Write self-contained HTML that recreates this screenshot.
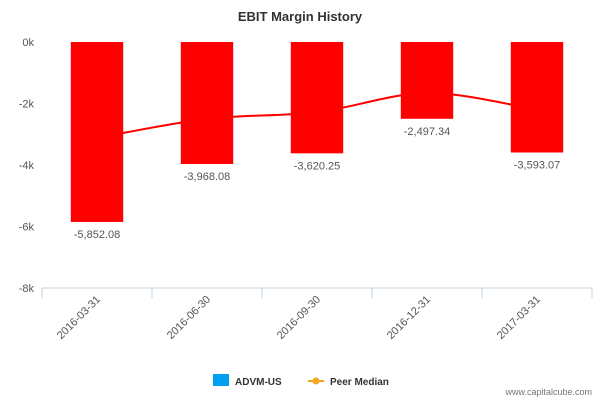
<!DOCTYPE html>
<html><head><meta charset="utf-8"><style>
body{margin:0;background:#fff;font-family:"Liberation Sans",sans-serif}
svg text{font-family:"Liberation Sans",sans-serif}
</style></head><body>
<svg id="c" width="600" height="400">
<text x="300" y="21" text-anchor="middle" font-size="13" font-weight="bold" fill="#333">EBIT Margin History</text>
<g id="yaxis"></g>
<g id="xaxis"></g>
<g id="bars"></g>
<g id="line"></g>
<g id="labels"></g>
<g>
<rect x="213" y="374" width="16" height="12" fill="#00a0f0"/>
<text x="235" y="385" font-size="10" font-weight="bold" fill="#333">ADVM-US</text>
<line x1="308" y1="381" x2="324" y2="381" stroke="#f5a623" stroke-width="2"/>
<circle cx="316" cy="381" r="3.5" fill="#f5a623"/>
<text x="330" y="385" font-size="10" font-weight="bold" fill="#333">Peer Median</text>
</g>
<text x="592" y="395" text-anchor="end" font-size="9" fill="#777">www.capitalcube.com</text>
</svg>
<script>
const categories=["2016-03-31","2016-06-30","2016-09-30","2016-12-31","2017-03-31"];
const ebitValues=[-5852.08,-3968.08,-3620.25,-2497.34,-3593.07];
const peerMedian=[-3120,-2500,-2280,-1660,-2200];
const yTicks=[0,-2000,-4000,-6000,-8000];
const yTickLabels=["0k","-2k","-4k","-6k","-8k"];
const NS="http://www.w3.org/2000/svg";
const x0=42,x1=592,y0=42,y1=288,yMin=-8000,yMax=0;
const band=(x1-x0)/categories.length;
function xC(i){return x0+band*(i+0.5);}
function yS(v){return y0+(yMax-v)/(yMax-yMin)*(y1-y0);}
function mk(tag,attrs,parent){const e=document.createElementNS(NS,tag);for(const k in attrs)e.setAttribute(k,attrs[k]);parent.appendChild(e);return e;}
const ya=document.getElementById('yaxis');
yTicks.forEach((t,i)=>{const tx=mk('text',{x:34,y:yS(t)+4,'text-anchor':'end','font-size':11,fill:'#555'},ya);tx.textContent=yTickLabels[i];

});
const xa=document.getElementById('xaxis');
const al=mk('line',{x1:x0,y1:y1,x2:x1,y2:y1,stroke:'#c0d0e0','stroke-width':1},xa);


for(let i=0;i<=categories.length;i++){const tk=mk('line',{x1:x0+band*i,y1:y1,x2:x0+band*i,y2:y1+10,stroke:'#c0d0e0'},xa);

}
categories.forEach((c,i)=>{const x=xC(i)+4,y=y1+12;const t=mk('text',{x:x,y:y,'text-anchor':'end','font-size':11,fill:'#555',transform:`rotate(-45 ${x} ${y})`},xa);t.textContent=c;

});
const bw=52.4,bg=document.getElementById('bars'),lg=document.getElementById('labels');
ebitValues.forEach((v,i)=>{const r=mk('rect',{x:xC(i)-bw/2,y:yS(0),width:bw,height:yS(v)-yS(0),fill:'#ff0000'},bg);


const t=mk('text',{x:xC(i),y:yS(v)+16,'text-anchor':'middle','font-size':11,fill:'#555'},lg);
t.textContent=v.toLocaleString('en-US',{minimumFractionDigits:2,maximumFractionDigits:2});

});
const pts=peerMedian.map((v,i)=>[xC(i),yS(v)]);
let d=`M${pts[0][0]},${pts[0][1]}`;
for(let i=0;i<pts.length-1;i++){const p0=pts[Math.max(i-1,0)],p1=pts[i],p2=pts[i+1],p3=pts[Math.min(i+2,pts.length-1)];
const c1=[p1[0]+(p2[0]-p0[0])/6,p1[1]+(p2[1]-p0[1])/6],c2=[p2[0]-(p3[0]-p1[0])/6,p2[1]-(p3[1]-p1[1])/6];
d+=` C${c1[0]},${c1[1]} ${c2[0]},${c2[1]} ${p2[0]},${p2[1]}`;}
const pl=mk('path',{d:d,fill:'none',stroke:'#ff0000','stroke-width':2},document.getElementById('line'));


document.getElementById('c').insertBefore(document.getElementById('line'),document.getElementById('bars'));
</script>
</body></html>
